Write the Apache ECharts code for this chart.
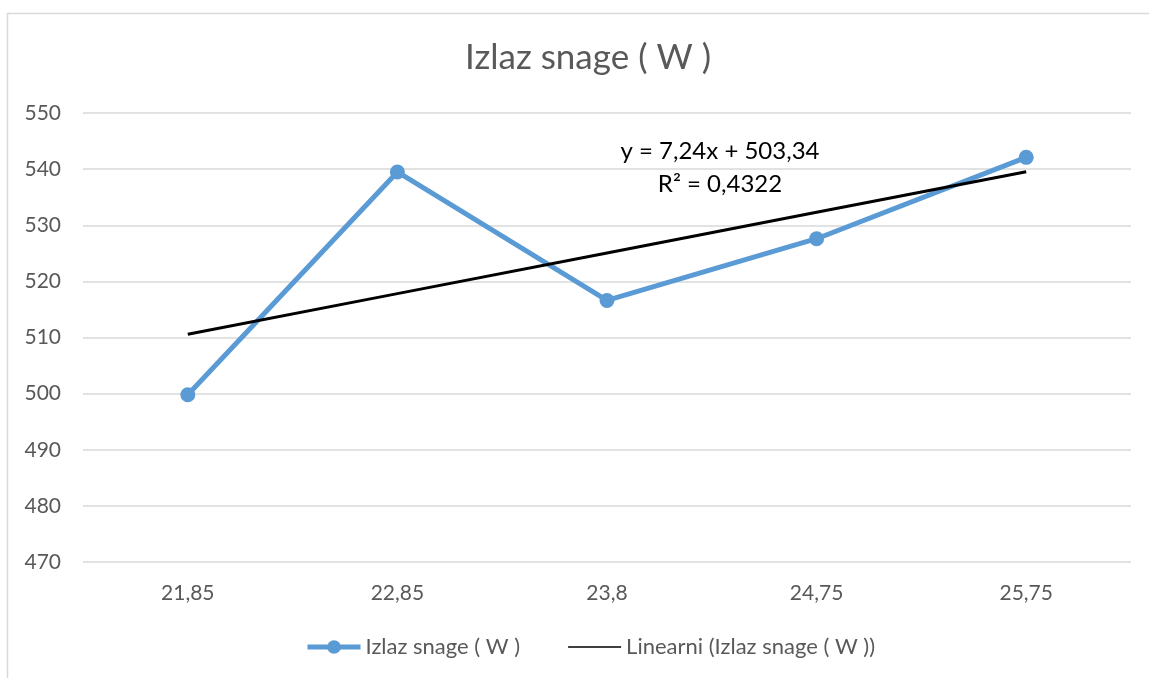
<!DOCTYPE html>
<html><head><meta charset="utf-8">
<script src="https://cdn.jsdelivr.net/npm/echarts@6/dist/echarts.min.js"></script>
<style>html,body{margin:0;padding:0;background:#fff}#c{width:1149px;height:678px}</style>
</head><body><div id="c"></div>
<script>
const categories = ['21,85', '22,85', '23,8', '24,75', '25,75'];
const powerValues = [499.8, 539.5, 516.6, 527.6, 542.1];
const trendValues = [510.58, 517.82, 525.06, 532.30, 539.54];
const seriesName = 'Izlaz snage ( W )';
const trendName = 'Linearni (Izlaz snage ( W ))';
const titleText = 'Izlaz snage ( W )';
const equationLines = ['y = 7,24x + 503,34', 'R² = 0,4322'];

const FONT = 'Lato, "Open Sans", sans-serif';
const chart = echarts.init(document.getElementById('c'));
chart.setOption({
  backgroundColor: '#fff',
  animation: false,
  title: {
    text: titleText, left: 583, textAlign: 'center', top: 35,
    textStyle: { fontFamily: FONT, fontSize: 35, fontWeight: 'normal', color: '#595959' }
  },
  graphic: [
    { type: 'rect', shape: { x: 7.5, y: 13.5, width: 1300, height: 800 },
      style: { fill: 'none', stroke: '#d9d9d9', lineWidth: 1.5 }, silent: true, z: -1 },
    { type: 'text', x: 720, y: 151, style: { text: equationLines[0], fontFamily: FONT, fontSize: 24, fill: '#000', align: 'center', verticalAlign: 'middle' } },
    { type: 'text', x: 720, y: 184, style: { text: equationLines[1], fontFamily: FONT, fontSize: 24, fill: '#000', align: 'center', verticalAlign: 'middle' } }
  ],
  legend: {
    bottom: 15, left: 300, itemGap: 48, itemWidth: 53, itemHeight: 17,
    textStyle: { fontFamily: FONT, fontSize: 22, color: '#595959' },
    data: [
      { name: seriesName, lineStyle: { width: 5, color: '#5B9BD5' } },
      { name: trendName, icon: 'path://M0,0 H50 V1.6 H0 Z', itemStyle: { color: '#000' } }
    ]
  },
  grid: { left: 83, right: 18, top: 113, bottom: 116 },
  xAxis: {
    type: 'category', data: categories, boundaryGap: true,
    axisLine: { show: false }, axisTick: { show: false },
    axisLabel: { fontFamily: FONT, fontSize: 21, color: '#595959', margin: 21 }
  },
  yAxis: {
    type: 'value', min: 470, max: 550, interval: 10,
    axisLine: { show: false }, axisTick: { show: false },
    axisLabel: { fontFamily: FONT, fontSize: 21, color: '#595959', margin: 22 },
    splitLine: { lineStyle: { color: '#d9d9d9', width: 1.5 } }
  },
  series: [
    { name: trendName, type: 'line', data: trendValues, symbol: 'none',
      lineStyle: { color: '#000', width: 3 }, itemStyle: { color: '#000' }, z: 3 },
    { name: seriesName, type: 'line', data: powerValues, symbol: 'circle', symbolSize: 15,
      lineStyle: { color: '#5B9BD5', width: 5 }, itemStyle: { color: '#5B9BD5' }, z: 2 }
  ]
});
</script></body></html>
